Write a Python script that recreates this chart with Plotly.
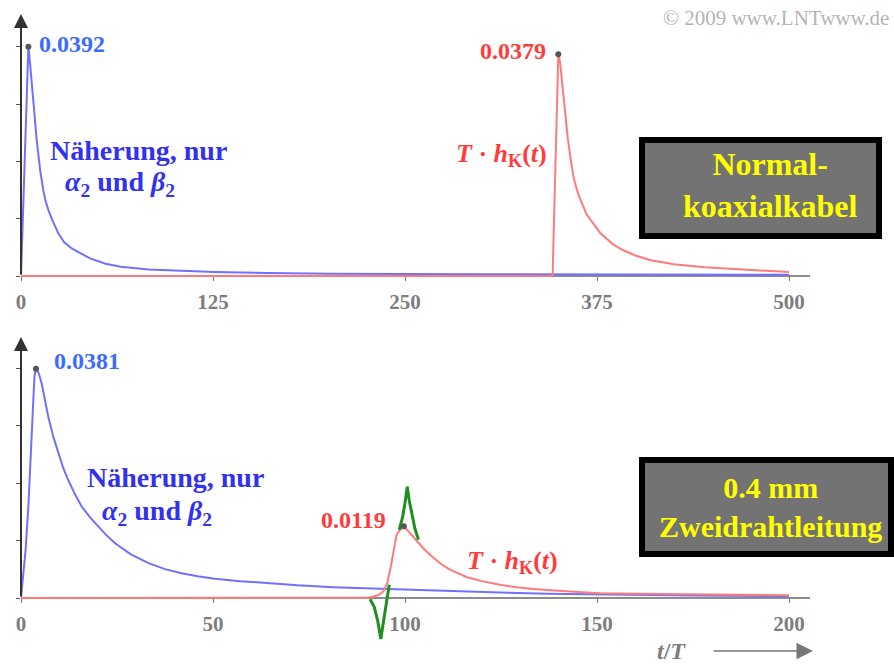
import plotly.graph_objects as go

W, H = 894, 664

# ---------------- data ----------------
# upper panel: Normalkoaxialkabel, t/T from 0 to 500
top_blue_t = [0, 4.8, 5.5, 6.2, 7.0, 8.0, 9.1, 10.0, 11.3, 12.5, 14.5, 16.0, 17.8, 20.0, 24.3, 28.0,
              33.0, 38.0, 45.0, 55.0, 65.0, 83.0, 100.0, 126.0, 160.0, 200.0, 300.0, 400.0, 500.0]
top_blue_v = [0, 0.0392, 0.0375, 0.0356, 0.0335, 0.0302, 0.0267, 0.0238, 0.0204, 0.0180, 0.0147,
              0.0128, 0.0113, 0.0098, 0.0073, 0.0058, 0.0047, 0.0040, 0.0030, 0.0021, 0.0016,
              0.0011, 0.0009, 0.0007, 0.0005, 0.0004, 0.0003, 0.0002, 0.0002]
top_red_t = [0, 346.1, 349.8, 350.8, 351.5, 353.0, 354.2, 356.0, 357.4, 359.5, 361.8, 364.0, 368.3,
             372.6, 377.0, 385.0, 392.1, 400.0, 410.0, 425.0, 445.0, 470.0, 500.0]
top_red_v = [0, 0, 0.0379, 0.0368, 0.0352, 0.0310, 0.0277, 0.0235, 0.0208, 0.0172, 0.0148, 0.0132,
             0.0105, 0.0089, 0.0074, 0.0055, 0.0044, 0.0035, 0.0027, 0.0020, 0.0015, 0.0011, 0.0007]
top_peak_t = [4.8, 349.8]
top_peak_v = [0.0392, 0.0379]
top_peak_txt = ["0.0392", "0.0379"]
top_ticks = [0, 125, 250, 375, 500]

# lower panel: 0.4 mm Zweidrahtleitung, t/T from 0 to 200
bot_blue_t = [0, 0.5, 1.2, 1.9, 2.5, 3.0, 3.5, 3.9, 4.6, 5.4, 6.2, 7.1, 8.4, 9.7, 11.0, 12.3, 14.0,
              15.8, 18.0, 20.1, 22.3, 24.5, 28.5, 33.2, 37.5, 41.8, 46.0, 50.5, 57.0, 64.0, 72.0,
              81.3, 90.0, 98.7, 112.0, 124.7, 137.0, 150.8, 175.0, 200.0]
bot_blue_v = [0, 0.0030, 0.0080, 0.0150, 0.0240, 0.0320, 0.0368, 0.0381, 0.0374, 0.0356, 0.0330,
              0.0301, 0.0268, 0.0240, 0.0216, 0.0196, 0.0173, 0.0152, 0.0134, 0.0119, 0.0104,
              0.0091, 0.0073, 0.0058, 0.0048, 0.0041, 0.0036, 0.0032, 0.0028, 0.0025, 0.0021,
              0.0018, 0.0016, 0.0015, 0.0012, 0.0009, 0.0007, 0.00055, 0.0004, 0.0003]
bot_red_t = [0, 88.0, 90.0, 91.5, 93.1, 94.4, 95.4, 96.3, 97.0, 97.8, 98.7, 99.7, 101.0, 103.0,
             105.0, 107.4, 109.5, 111.7, 114.0, 116.0, 120.0, 124.7, 129.0, 133.4, 140.0, 150.8,
             160.0, 176.8, 190.0, 200.0]
bot_red_v = [0, 0, 0.00005, 0.0002, 0.0005, 0.0011, 0.0025, 0.0052, 0.0080, 0.0105, 0.0113, 0.0119,
             0.0110, 0.0095, 0.0081, 0.0067, 0.0056, 0.0047, 0.0040, 0.0035, 0.0028, 0.0022,
             0.0018, 0.0015, 0.0012, 0.0008, 0.0007, 0.00055, 0.0005, 0.00045]
bot_green_t = [90.9, 92.0, 92.9, 93.7, 94.5, 95.2, 95.9, None, 98.5, 99.4, 100.0, 100.6, 101.1,
               101.7, 102.6, 103.5]
bot_green_v = [-0.0002, -0.0015, -0.0038, -0.0068, -0.0035, -0.0005, 0.0022, None, 0.0113, 0.0135,
               0.0158, 0.0185, 0.0162, 0.0141, 0.0115, 0.0097]
bot_peak_t = [3.9, 99.7]
bot_peak_v = [0.0381, 0.0119]
bot_peak_txt = ["0.0381", "0.0119"]
bot_ticks = [0, 50, 100, 150, 200]

# ---------------- styling ----------------
BLUE = "#7070ff"
RED = "#ff7b7b"
GREEN = "#1f8f1f"
BLUE_TXT = "#3d6bff"
BLUE_TXT2 = "#3232ee"
RED_TXT = "#ff3b3b"
GRAY = "#7d7d7d"
SERIF = "Liberation Serif, Times New Roman, serif"

TOP_PPU = 5850.0   # pixels per unit (upper panel)
BOT_PPU = 6020.0   # pixels per unit (lower panel)


def px(xp, yp):
    return xp / W, 1 - yp / H


fig = go.Figure()

# upper panel traces
fig.add_trace(go.Scatter(x=top_blue_t, y=top_blue_v, xaxis="x", yaxis="y", mode="lines",
                         line=dict(color=BLUE, width=2)))
fig.add_trace(go.Scatter(x=top_red_t, y=top_red_v, xaxis="x", yaxis="y", mode="lines",
                         line=dict(color=RED, width=2)))
fig.add_trace(go.Scatter(x=top_peak_t, y=top_peak_v, xaxis="x", yaxis="y", mode="markers",
                         marker=dict(color="#555555", size=6), cliponaxis=False))

# lower panel traces
fig.add_trace(go.Scatter(x=bot_blue_t, y=bot_blue_v, xaxis="x2", yaxis="y2", mode="lines",
                         line=dict(color=BLUE, width=2)))
fig.add_trace(go.Scatter(x=bot_red_t, y=bot_red_v, xaxis="x2", yaxis="y2", mode="lines",
                         line=dict(color=RED, width=2)))
fig.add_trace(go.Scatter(x=bot_green_t, y=bot_green_v, xaxis="x2", yaxis="y2", mode="lines",
                         line=dict(color=GREEN, width=3), connectgaps=False))
fig.add_trace(go.Scatter(x=bot_peak_t, y=bot_peak_v, xaxis="x2", yaxis="y2", mode="markers",
                         marker=dict(color="#555555", size=6), cliponaxis=False))

tickfont = dict(family=SERIF, size=21, color=GRAY, weight="bold")
xcommon = dict(showline=True, linecolor="#8c8c8c", linewidth=2, ticks="outside", ticklen=4,
               tickcolor="#777777", tickfont=tickfont, showgrid=False, zeroline=False,
               layer="below traces", ticklabelstandoff=3, automargin=False)
ycommon = dict(showline=False, ticks="outside", ticklen=4, tickcolor="#555555", showticklabels=False,
               showgrid=False, zeroline=False, automargin=False)

xdom = [21 / W, 810 / W]

fig.update_layout(
    width=W, height=H,
    margin=dict(l=0, r=0, t=0, b=0, autoexpand=False),
    paper_bgcolor="white", plot_bgcolor="white",
    showlegend=False,
    xaxis=dict(domain=xdom, range=[0, (810 - 21) / 1.536], anchor="free", position=1 - 276 / H,
               tickvals=top_ticks, **xcommon),
    yaxis=dict(domain=[1 - 282 / H, 1 - 8 / H], range=[-6 / TOP_PPU, (276 - 8) / TOP_PPU], anchor="x",
               tickvals=[top_peak_v[0] / 4 * k for k in range(5)], **ycommon),
    xaxis2=dict(domain=xdom, range=[0, (810 - 21) / 3.84], anchor="free", position=1 - 598 / H,
                tickvals=bot_ticks, **xcommon),
    yaxis2=dict(domain=[1 - 646 / H, 1 - 330 / H], range=[-(646 - 598) / BOT_PPU, (598 - 330) / BOT_PPU],
                anchor="x2", tickvals=[bot_peak_v[0] / 4 * k for k in range(5)], **ycommon),
)

ann = []
# y-axis arrows
for tip, base in [(14, 276), (337, 598)]:
    x0, y0 = px(21, tip)
    ann.append(dict(xref="paper", yref="paper", x=x0, y=y0, ax=0, ay=base - tip, axref="pixel",
                    ayref="pixel", text="", showarrow=True, arrowhead=2, arrowsize=1.4, arrowwidth=2,
                    arrowcolor="#333333", standoff=0))

# peak value labels
ann.append(dict(xref="x", yref="y", x=top_peak_t[0], y=top_peak_v[0], text=top_peak_txt[0],
                xanchor="left", yanchor="middle", xshift=9, yshift=3, showarrow=False,
                font=dict(family=SERIF, size=24, color=BLUE_TXT, weight="bold")))
ann.append(dict(xref="x", yref="y", x=top_peak_t[1], y=top_peak_v[1], text=top_peak_txt[1],
                xanchor="right", yanchor="middle", xshift=-10, yshift=3, showarrow=False,
                font=dict(family=SERIF, size=24, color=RED_TXT, weight="bold")))
ann.append(dict(xref="x2", yref="y2", x=bot_peak_t[0], y=bot_peak_v[0], text=bot_peak_txt[0],
                xanchor="left", yanchor="middle", xshift=16, yshift=8, showarrow=False,
                font=dict(family=SERIF, size=24, color=BLUE_TXT, weight="bold")))
ann.append(dict(xref="x2", yref="y2", x=bot_peak_t[1], y=bot_peak_v[1], text=bot_peak_txt[1],
                xanchor="right", yanchor="middle", xshift=-16, yshift=6, showarrow=False,
                font=dict(family=SERIF, size=24, color=RED_TXT, weight="bold")))


def text_at(xp, yp, txt, size, color, xanchor="left", italic=False):
    x0, y0 = px(xp, yp)
    ann.append(dict(xref="paper", yref="paper", x=x0, y=y0, text=txt, xanchor=xanchor,
                    yanchor="middle", showarrow=False,
                    font=dict(family=SERIF, size=size, color=color, weight="bold",
                              style="italic" if italic else "normal")))


alpha_beta = "<i>α</i><sub>2</sub> und <i>β</i><sub>2</sub>"
hk = "<i>T</i> · <i>h</i><sub>K</sub>(<i>t</i>)"

text_at(48, 151, "Näherung, nur", 28, BLUE_TXT2)
text_at(63, 183, alpha_beta, 28, BLUE_TXT2)
text_at(85, 477, "Näherung, nur", 28, BLUE_TXT2)
text_at(100, 512, alpha_beta, 28, BLUE_TXT2)
text_at(549, 155, hk, 26, RED_TXT, xanchor="right")
text_at(465, 562, hk, 26, RED_TXT)

# boxes
for (x0p, y0p, x1p, y1p) in [(642, 140, 879, 236), (642, 460, 891, 554)]:
    a, b = px(x0p, y1p)
    c, d = px(x1p, y0p)
    fig.add_shape(type="rect", xref="paper", yref="paper", x0=a, y0=b, x1=c, y1=d,
                  line=dict(color="black", width=6), fillcolor="#737373", layer="above")

text_at(770, 185, "Normal-<br>koaxialkabel", 32, "#ffff00", xanchor="center")
text_at(770, 507, "0.4 mm<br>Zweidrahtleitung", 30, "#ffff00", xanchor="center")

# copyright
x0, y0 = px(891, 18)
ann.append(dict(xref="paper", yref="paper", x=x0, y=y0, text="© 2009 www.LNTwww.de", xanchor="right",
                yanchor="middle", showarrow=False, font=dict(family=SERIF, size=21, color="#b5b5b5")))

# t/T label + arrow
text_at(655, 651, "<i>t</i>/<i>T</i>", 24, GRAY)
x0, y0 = px(813, 651)
ann.append(dict(xref="paper", yref="paper", x=x0, y=y0, ax=-101, ay=0, axref="pixel", ayref="pixel",
                text="", showarrow=True, arrowhead=2, arrowsize=2.2, arrowwidth=1.5,
                arrowcolor="#777777", standoff=0))

fig.update_layout(annotations=ann)

fig.write_html("out.html", config={"displayModeBar": False},
               post_script="document.body.style.margin='0px';")
